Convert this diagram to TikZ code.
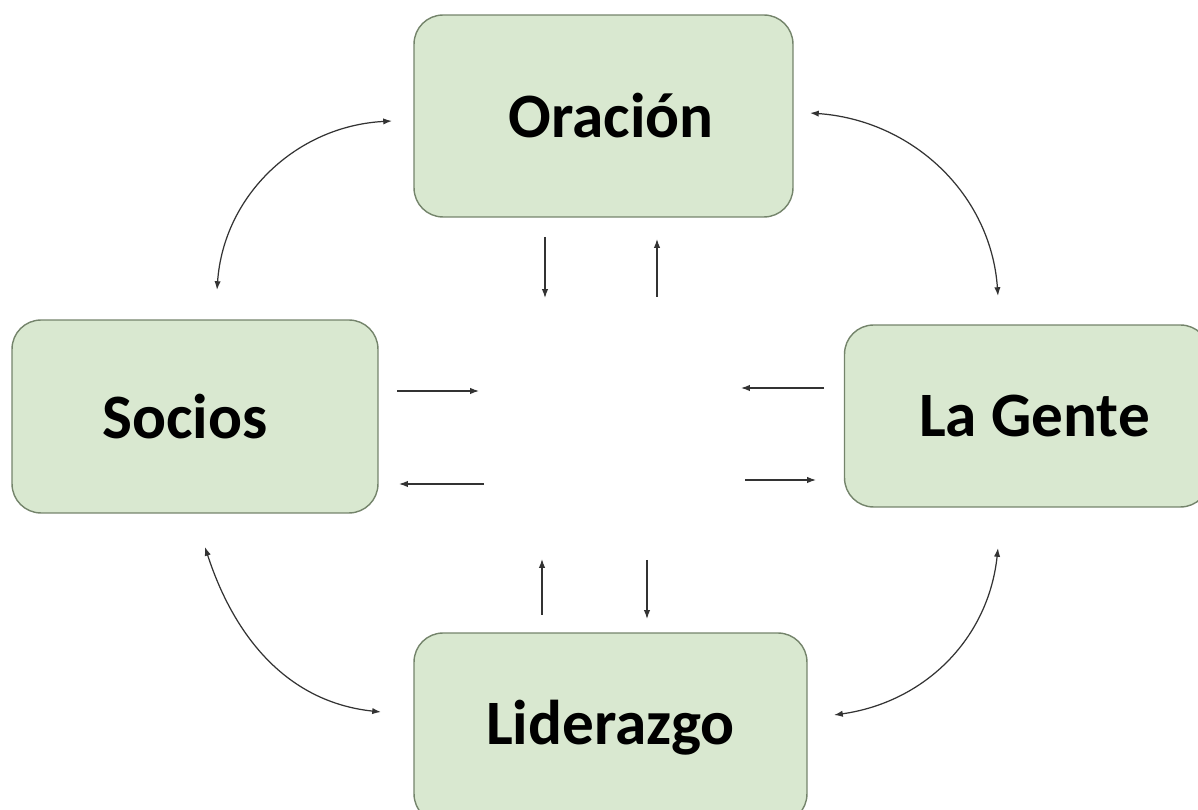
\documentclass[tikz,border=0pt]{standalone}
\usepackage{fontspec}
\setmainfont{Carlito}
\usepackage{tikz}
\usetikzlibrary{arrows.meta}
\definecolor{verdecaja}{HTML}{D9E8D0}
\definecolor{bordecaja}{HTML}{74846B}
\tikzset{
  caja/.style={draw=bordecaja, fill=verdecaja, line width=0.8pt, rounded corners=0.58cm,
    font=\fontsize{36}{40}\selectfont\bfseries, inner sep=0pt},
  flecha/.style={draw=black!80, line width=0.7pt, -{Latex[length=5pt,width=3.6pt]}},
  dobleflecha/.style={draw=black!80, line width=0.7pt, {Latex[length=5pt,width=3.6pt]}-{Latex[length=5pt,width=3.6pt]}}
}

\begin{document}
\begin{tikzpicture}[x=0.02cm,y=-0.02cm]
        \useasboundingbox (0,0) rectangle (1198,810);
        \clip (0,0) rectangle (1198,810);
        % boxes
        \node[caja, minimum width=7.58cm, minimum height=4.04cm] (oracion) at (603.5,116) {\hspace*{0.3cm}Oración};
        \node[caja, minimum width=7.32cm, minimum height=3.86cm] (socios) at (195,416.5) {Socios\hspace*{0.4cm}};
        \node[caja, minimum width=7.30cm, minimum height=3.64cm] (gente) at (1027,416) {\hspace*{0.3cm}La Gente};
        \node[caja, minimum width=7.86cm, minimum height=3.80cm] (liderazgo) at (610.5,728) {Liderazgo};

        % short arrows
        \foreach \n/\xa/\ya/\xb/\yb in {1/545/237/545/298, 2/657/297/657/239,
                                        3/397/391/479/391, 4/484/484/399/484,
                                        5/824/388/741/388, 6/745/480/816/480,
                                        7/542/615/542/559, 8/647/560/647/619}
        {
            \coordinate (s\n) at (\xa,\ya);
            \coordinate (e\n) at (\xb,\yb);
            \draw[flecha] (s\n) -- (e\n);
        }

        % curved arrows
        \coordinate (c1a) at (217,290);
        \coordinate (c1b) at (392,121);
        \coordinate (c2a) at (810,113);
        \coordinate (c2b) at (998,296);
        \coordinate (c3a) at (205,547);
        \coordinate (c3b) at (381,712);
        \coordinate (c4a) at (998,548);
        \coordinate (c4b) at (834,715);
        \draw[dobleflecha] (c1a) to[out=86,in=183] (c1b);
        \draw[dobleflecha] (c2a) to[out=-4,in=94] (c2b);
        \draw[dobleflecha] (c3a) to[out=-72,in=174] (c3b);
        \draw[dobleflecha] (c4a) to[out=-96,in=8] (c4b);
    \end{tikzpicture}
\end{document}
